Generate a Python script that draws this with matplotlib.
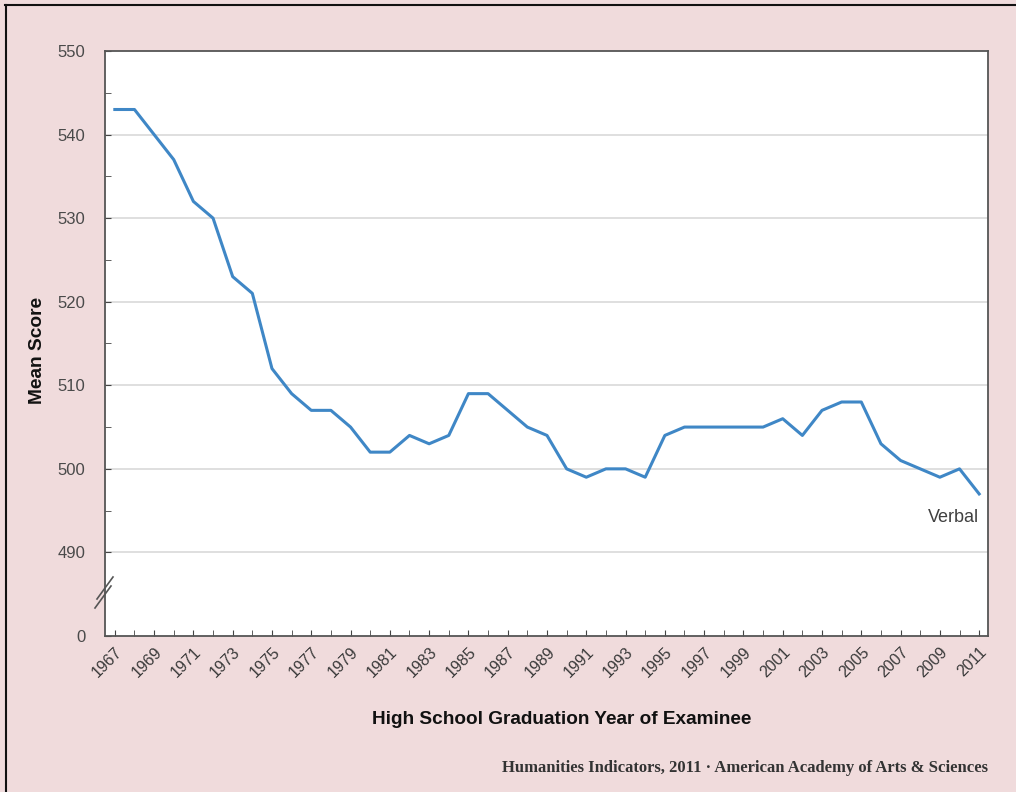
import matplotlib
matplotlib.use("Agg")
import matplotlib.pyplot as plt
from matplotlib.lines import Line2D

years = list(range(1967, 2012))
verbal = [543, 543, 540, 537, 532, 530, 523, 521, 512, 509,
          507, 507, 505, 502, 502, 504, 503, 504, 509, 509,
          507, 505, 504, 500, 499, 500, 500, 499, 504, 505,
          505, 505, 505, 505, 506, 504, 507, 508, 508, 503,
          501, 500, 499, 500, 497]
ytick_vals = [480, 490, 500, 510, 520, 530, 540, 550]
ytick_labels = ["0", "490", "500", "510", "520", "530", "540", "550"]
xtick_years = list(range(1967, 2012, 2))

pink = "#f0dbdc"
plt.rcParams['font.family'] = ['Liberation Sans', 'DejaVu Sans']

fig = plt.figure(figsize=(10.16, 7.92), dpi=100, facecolor=pink)
ax = fig.add_axes([105/1016, 1-636/792, (988-105)/1016, (636-51)/792])
ax.set_facecolor("white")

ax.plot(years, verbal, color="#3f87c6", lw=2.2, solid_joinstyle="round", zorder=3)

ax.set_xlim(1966.5, 2011.45)
ax.set_ylim(480, 550)

ax.set_yticks(ytick_vals)
ax.set_yticklabels(ytick_labels)
ax.set_yticks([495, 505, 515, 525, 535, 545], minor=True)
ax.set_xticks(years, minor=True)
ax.set_xticks(xtick_years)
ax.set_xticklabels([str(y) for y in xtick_years], rotation=45, ha="right",
                   rotation_mode="anchor")

for v in [490, 500, 510, 520, 530, 540]:
    ax.axhline(v, color="#d9d9d9", lw=1.2, zorder=1)

ax.tick_params(axis="y", which="both", direction="in", length=4, color="#444444",
               labelsize=12, labelcolor="#4a4a4a", pad=14)
ax.tick_params(axis="x", which="both", direction="in", length=4, color="#444444",
               labelsize=11.5, labelcolor="#3a3a3a", pad=6)
for s in ax.spines.values():
    s.set_color("#555555")
    s.set_linewidth(1.3)

# axis break marks (pixel offsets converted to axes fraction)
W = (988 - 105)
H = (636 - 51)
for xc, ycp in ((0, 588), (-2, 597)):
    yc = (636 - ycp) / H
    ax.plot([(xc - 8) / W, (xc + 8) / W], [yc - 11 / H, yc + 11 / H],
            transform=ax.transAxes, color="#555555", lw=1.2, clip_on=False, zorder=5)

ax.text(2011, 494.2, "Verbal", ha="right", va="center", fontsize=13, color="#404040")

fig.text(38/1016, 1-350/792, "Mean Score", rotation=90, ha="center", va="center",
         fontsize=13.8, fontweight="bold", color="#111111")
fig.text(562/1016, 1-720/792, "High School Graduation Year of Examinee", ha="center",
         va="center", fontsize=13.7, fontweight="bold", color="#111111")
fig.text(988/1016, 1-768/792,
         "Humanities Indicators, 2011 \u00b7 American Academy of Arts & Sciences",
         ha="right", va="center", fontsize=12, fontweight="bold", color="#333333",
         family="Liberation Serif")

# figure border lines (top and left)
fig.add_artist(Line2D([5/1016, 1], [1-5/792, 1-5/792], transform=fig.transFigure,
                      color="#111111", lw=1.5))
fig.add_artist(Line2D([6/1016, 6/1016], [0, 1-5/792], transform=fig.transFigure,
                      color="#111111", lw=1.5))

fig.savefig("out.png", dpi=100, facecolor=pink)
